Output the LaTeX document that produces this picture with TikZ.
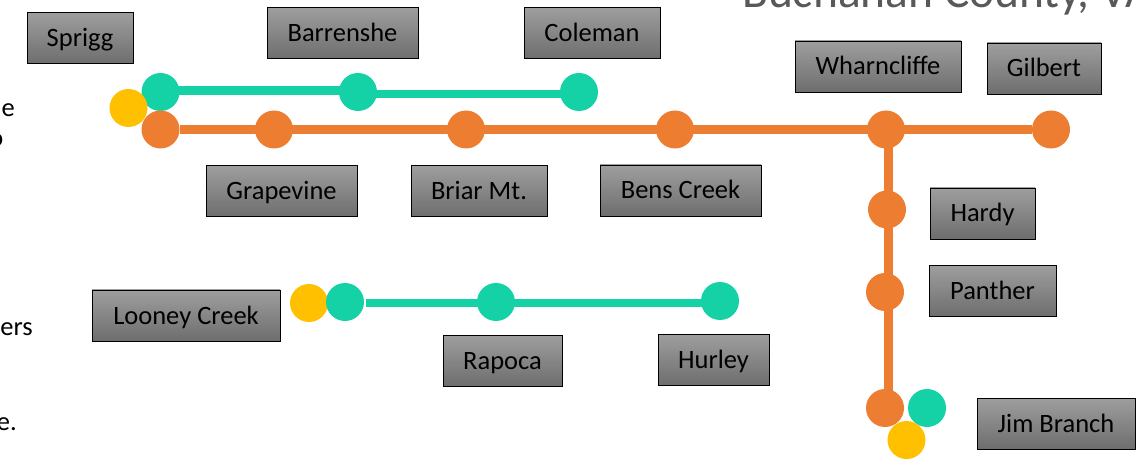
\documentclass[tikz,border=0pt]{standalone}
\usepackage{fontspec}
\setmainfont{Carlito}
\usetikzlibrary{positioning,backgrounds}

\definecolor{lineorange}{HTML}{ED7D31}
\definecolor{linegreen}{HTML}{14D2A5}
\definecolor{lineyellow}{HTML}{FFC000}

\begin{document}
\begin{tikzpicture}[
    x=1pt,y=-1pt,
    on grid,
    stop/.style={circle,minimum size=38pt,inner sep=0pt},
    ostop/.style={stop,fill=lineorange},
    gstop/.style={stop,fill=linegreen},
    ystop/.style={stop,fill=lineyellow},
    namebox/.style={rectangle,draw=black,line width=0.9pt,top color=black!38,bottom color=black!57,
        minimum height=51pt,inner sep=0pt,text height=22pt,text depth=5pt,
        font=\fontsize{26.5}{31}\selectfont,text=black},
    oline/.style={draw=lineorange,line width=8.5pt},
    gline/.style={draw=linegreen,line width=8.5pt},
    clipped/.style={inner sep=0pt,font=\fontsize{26.5}{31}\selectfont,text=black}
]
\useasboundingbox (0,0) rectangle (1140,462);

% Title and cut off text
\node[anchor=base west,inner sep=0pt,font=\fontsize{47.5}{57}\selectfont,text=black!65] (title) at (742,8) {Buchanan County, VA};
\node[clipped,anchor=base east] (textone) at (15,117) {e};
\node[clipped,anchor=base east] (texttwo) at (3.5,147) {o};
\node[clipped,anchor=base east] (textthree) at (33,335) {ers};
\node[clipped,anchor=base east] (textfour) at (17,430) {e.};

% Green line, top
\node[gstop] (gsprigg) at (160.5,92) {};
\node[gstop,right=197.5pt of gsprigg] (gbarrenshe) {};
\node[gstop,right=221pt of gbarrenshe] (gcoleman) {};

% Orange line
\node[ostop] (osprigg) at (160.5,129.5) {};
\node[ostop,right=113.5pt of osprigg] (ograpevine) {};
\node[ostop,right=192pt of ograpevine] (obriar) {};
\node[ostop,right=209pt of obriar] (obens) {};
\node[ostop,right=211pt of obens] (owharncliffe) {};
\node[ostop,right=165pt of owharncliffe] (ogilbert) {};
\node[ostop,below right=80pt and 1pt of owharncliffe] (ohardy) {};
\node[ostop,below left=82.5pt and 2pt of ohardy] (opanther) {};
\node[ostop,below=116pt of opanther] (ojim) {};
\node[gstop,right=42pt of ojim] (gjim) {};
\node[ystop,below right=32pt and 21.5pt of ojim] (yjim) {};
\node[ystop,above left=21.5pt and 32pt of osprigg] (ysprigg) {};

% Green line, bottom
\node[ystop] (ylooney) at (309,303) {};
\node[gstop,above right=1pt and 36pt of ylooney] (glooney) {};
\node[gstop,right=151pt of glooney] (grapoca) {};
\node[gstop,above right=1pt and 224pt of grapoca] (ghurley) {};

% Names
\node[namebox,minimum width=106pt,above left=54pt and 80.5pt of gsprigg] (sprigg) {Sprigg};
\node[namebox,minimum width=151pt,above left=59pt and 15.5pt of gbarrenshe] (barrenshe) {Barrenshe};
\node[namebox,minimum width=136pt,above right=59pt and 13pt of gcoleman] (coleman) {Coleman};
\node[namebox,minimum width=166pt,above left=63pt and 8pt of owharncliffe] (wharncliffe) {Wharncliffe};
\node[namebox,minimum width=114pt,above left=61pt and 7pt of ogilbert] (gilbert) {Gilbert};
\node[namebox,minimum width=151pt,below right=61.5pt and 7.5pt of ograpevine] (grapevine) {Grapevine};
\node[namebox,minimum width=136pt,below right=61.5pt and 13pt of obriar] (briar) {Briar Mt.};
\node[namebox,minimum width=161pt,below right=61pt and 5.5pt of obens] (bens) {Bens Creek};
\node[namebox,minimum width=105pt,below right=4pt and 95.5pt of ohardy] (hardy) {Hardy};
\node[namebox,minimum width=127pt,above right=1pt and 107.5pt of opanther] (panther) {Panther};
\node[namebox,minimum width=188pt,below left=12.5pt and 123pt of ylooney] (looney) {Looney Creek};
\node[namebox,minimum width=119pt,below right=58.5pt and 6.5pt of grapoca] (rapoca) {Rapoca};
\node[namebox,minimum width=111pt,below left=58.5pt and 6.5pt of ghurley] (hurley) {Hurley};
\node[namebox,minimum width=158pt,below right=15.5pt and 171pt of ojim] (jim) {Jim Branch};

% Lines behind the stops
\begin{scope}[on background layer]
\draw[gline] ([yshift=1.5pt]gsprigg.center) -- ([yshift=1.5pt]gbarrenshe.center);
\draw[gline] ([yshift=-2pt]gbarrenshe.center) -- ([yshift=-2pt]gcoleman.center);
\draw[oline] (osprigg) -- (ogilbert);
\draw[oline] ([xshift=2.5pt]owharncliffe.center) -- ([xshift=3.5pt]ojim.center);
\draw[gline] ([xshift=2pt,yshift=-1pt]glooney.east) -- ([yshift=-2pt]ghurley.center);
\end{scope}

\end{tikzpicture}
\end{document}
